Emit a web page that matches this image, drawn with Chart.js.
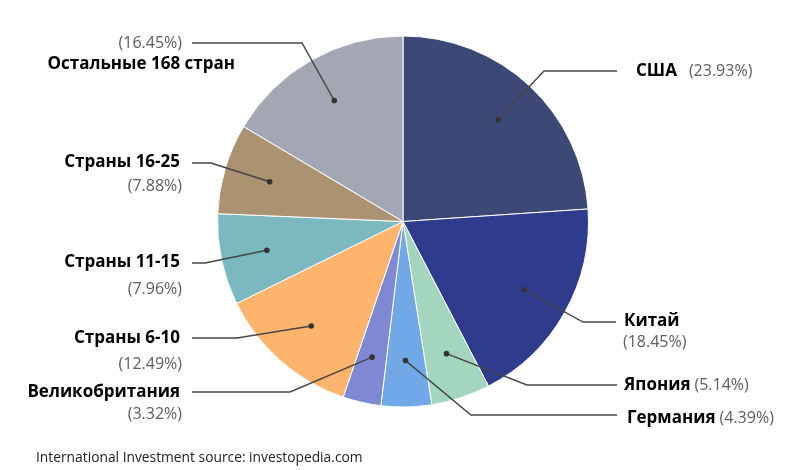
<!DOCTYPE html>
<html>
<head>
<meta charset="utf-8">
<script src="https://cdn.jsdelivr.net/npm/chart.js@4/dist/chart.umd.min.js"></script>
<style>
  html, body { margin: 0; padding: 0; background: #fff; }
  #wrap { width: 800px; height: 470px; position: relative; }
</style>
</head>
<body>
<div id="wrap"><canvas id="pieChart"></canvas></div>
<script>
var labels = ['США', 'Китай', 'Япония', 'Германия', 'Великобритания', 'Страны 6-10', 'Страны 11-15', 'Страны 16-25', 'Остальные 168 стран'];
var shares = [23.93, 18.45, 5.14, 4.39, 3.32, 12.49, 7.96, 7.88, 16.45];
var colors = ['#3c4977', '#2f3c8d', '#a3d5bf', '#70a8e8', '#7f89d3', '#feb46d', '#7bb8c0', '#ab9271', '#a3a7b4'];

// where each leader line bends, ends and where its texts sit
var layout = [
    { elbow: [544, 71], end: [617, 71], name: [636, 71, 'left'], pct: 'inline', gap: 12 },
    { elbow: [583, 322], end: [616, 322], name: [624, 321, 'left'], pct: [623, 342, 'left'] },
    { elbow: [527, 385], end: [617, 385], name: [624, 385, 'left'], pct: 'inline', gap: 4 },
    { elbow: [471, 415], end: [617, 415], name: [627, 418, 'left'], pct: 'inline', gap: 4 },
    { elbow: [290, 392], end: [192, 392], name: [180, 392, 'right'], pct: [182, 414, 'right'] },
    { elbow: [237, 338], end: [192, 338], name: [180, 338, 'right'], pct: [182, 364, 'right'] },
    { elbow: [205, 263], end: [192, 263], name: [180, 262, 'right'], pct: [182, 289, 'right'] },
    { elbow: [211, 163], end: [192, 163], name: [180, 162, 'right'], pct: [182, 186, 'right'] },
    { elbow: [302, 43], end: [192, 43], name: [235, 64, 'right'], pct: [182, 43, 'right'] }
];

var nameFont = 'bold 17px "Open Sans", sans-serif';
var pctFont = '16px "Open Sans", sans-serif';

var leaderLabels = {
    id: 'leaderLabels',
    afterDatasetsDraw: function (chart) {
        var ctx = chart.ctx;
        var arcs = chart.getDatasetMeta(0).data;
        ctx.save();
        arcs.forEach(function (arc, i) {
            var p = arc.getProps(['x', 'y', 'startAngle', 'endAngle', 'outerRadius'], true);
            var mid = (p.startAngle + p.endAngle) / 2;
            var dx = p.x + Math.cos(mid) * p.outerRadius * 0.75;
            var dy = p.y + Math.sin(mid) * p.outerRadius * 0.75;
            var l = layout[i];

            ctx.strokeStyle = '#454545';
            ctx.lineWidth = 1.4;
            ctx.beginPath();
            ctx.moveTo(dx, dy);
            ctx.lineTo(l.elbow[0], l.elbow[1]);
            ctx.lineTo(l.end[0], l.end[1]);
            ctx.stroke();

            ctx.fillStyle = '#333';
            ctx.beginPath();
            ctx.arc(dx, dy, 2.8, 0, Math.PI * 2);
            ctx.fill();

            var pctText = '(' + shares[i].toFixed(2) + '%)';
            ctx.textBaseline = 'middle';
            ctx.font = nameFont;
            ctx.fillStyle = '#000';
            ctx.textAlign = l.name[2];
            ctx.fillText(labels[i], l.name[0], l.name[1]);

            ctx.font = pctFont;
            ctx.fillStyle = '#5e5e5e';
            if (l.pct === 'inline') {
                ctx.font = nameFont;
                var w = ctx.measureText(labels[i]).width;
                ctx.font = pctFont;
                ctx.textAlign = 'left';
                ctx.fillText(pctText, l.name[0] + w + l.gap, l.name[1]);
            } else {
                ctx.textAlign = l.pct[2];
                ctx.fillText(pctText, l.pct[0], l.pct[1]);
            }
        });

        ctx.font = '13.8px "Open Sans", sans-serif';
        ctx.fillStyle = '#222';
        ctx.textAlign = 'left';
        ctx.fillText('International Investment source: investopedia.com', 36, 458);
        ctx.restore();
    }
};

var ctx1 = document.getElementById('pieChart').getContext('2d');
var pieChart = new Chart(ctx1, {
    type: 'pie',
    data: {
        labels: labels,
        datasets: [{
            data: shares,
            backgroundColor: colors,
            borderColor: '#ffffff',
            borderWidth: 1
        }]
    },
    options: {
        responsive: true,
        maintainAspectRatio: false,
        animation: false,
        layout: {
            padding: { top: 35, bottom: 62, left: 217, right: 211 }
        },
        plugins: {
            legend: { display: false },
            tooltip: { enabled: false }
        }
    },
    plugins: [leaderLabels]
});
</script>
</body>
</html>
